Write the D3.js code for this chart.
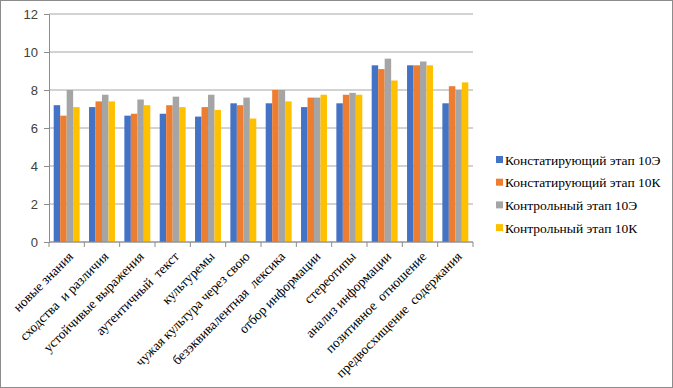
<!DOCTYPE html>
<html>
<head>
<meta charset="utf-8">
<script src="https://cdn.jsdelivr.net/npm/d3@7"></script>
<style>
  body { margin: 0; background: #fff; }
  .canva svg { display: block; }
</style>
</head>
<body>
<div class="canva"></div>
<script>
// categories and series values
const categories = [
  'новые знания', 'сходства  и различия', 'устойчивые выражения', 'аутентичный  текст',
  'культуремы', 'чужая культура через свою', 'безэквивалентная  лексика', 'отбор информации',
  'стереотипы', 'анализ информации', 'позитивное  отношение', 'предвосхищение  содержания'
];
const seriesNames = ['Констатирующий этап 10Э', 'Констатирующий этап 10К', 'Контрольный этап 10Э', 'Контрольный этап 10К'];
const konst10E = [7.2, 7.1, 6.65, 6.75, 6.6, 7.3, 7.3, 7.1, 7.3, 9.3, 9.3, 7.3];
const konst10K = [6.65, 7.4, 6.75, 7.2, 7.1, 7.2, 8.0, 7.6, 7.75, 9.1, 9.3, 8.2];
const kontr10E = [8.0, 7.75, 7.5, 7.65, 7.75, 7.6, 8.0, 7.6, 7.85, 9.65, 9.5, 8.0];
const kontr10K = [7.1, 7.4, 7.2, 7.1, 6.95, 6.5, 7.4, 7.75, 7.75, 8.5, 9.3, 8.4];
const yTicks = [0, 2, 4, 6, 8, 10, 12];
const colors = ['#4472C4', '#ED7D31', '#A5A5A5', '#FFC000'];

const series = [konst10E, konst10K, kontr10E, kontr10K];
const serifFont = "'Liberation Serif'";

const width = 673, height = 388;
const margin = {top: 14, left: 49, right: 200, bottom: 146};
const plotW = 473 - margin.left;
const plotH = 242 - margin.top;

const svg = d3.select('.canva').append('svg')
  .attr('width', width)
  .attr('height', height);

// outer chart border
svg.append('rect')
  .attr('x', 0.5).attr('y', 0.5)
  .attr('width', width - 1).attr('height', height - 1)
  .attr('fill', '#fff').attr('stroke', '#8c8c8c');

const graph = svg.append('g')
  .attr('transform', `translate(${margin.left}, ${margin.top})`);

const x = d3.scaleBand()
  .domain(categories)
  .range([0, plotW])
  .paddingInner(0)
  .paddingOuter(0);

const x1 = d3.scaleBand()
  .domain(d3.range(series.length))
  .range([4.7, x.bandwidth() - 4.7]);

const y = d3.scaleLinear()
  .domain([0, 12])
  .range([plotH, 0]);

// gridlines
graph.append('g')
  .selectAll('line')
  .data(yTicks)
  .enter().append('line')
  .attr('x1', 0).attr('x2', plotW)
  .attr('y1', d => y(d)).attr('y2', d => y(d))
  .attr('stroke', '#a6a6a6');

// y axis
const yAxis = d3.axisLeft(y).tickValues(yTicks).tickSize(5).tickPadding(6);
const yAxisGroup = graph.append('g').call(yAxis)
  .attr('font-family', "'Liberation Sans'")
  .attr('font-size', 13);
yAxisGroup.select('.domain').attr('stroke', '#8c8c8c');
yAxisGroup.selectAll('.tick line').attr('stroke', '#8c8c8c');
yAxisGroup.selectAll('text').attr('fill', '#404040');

// bars
const groups = graph.selectAll('.grp')
  .data(categories)
  .enter().append('g')
  .attr('class', 'grp')
  .attr('transform', d => `translate(${x(d)}, 0)`);

groups.selectAll('rect')
  .data((d, i) => series.map((s, k) => ({k: k, v: s[i]})))
  .enter().append('rect')
  .attr('x', d => x1(d.k))
  .attr('width', x1.bandwidth())
  .attr('y', d => y(d.v))
  .attr('height', d => plotH - y(d.v))
  .attr('fill', d => colors[d.k]);

// x axis with ticks between categories
const xAxisGroup = graph.append('g')
  .attr('transform', `translate(0, ${plotH})`);
xAxisGroup.append('line')
  .attr('x1', 0).attr('x2', plotW)
  .attr('stroke', '#8c8c8c');
xAxisGroup.selectAll('.tk')
  .data(d3.range(categories.length + 1))
  .enter().append('line')
  .attr('x1', i => i * x.bandwidth()).attr('x2', i => i * x.bandwidth())
  .attr('y1', 0).attr('y2', 5)
  .attr('stroke', '#8c8c8c');

xAxisGroup.selectAll('.lbl')
  .data(categories)
  .enter().append('text')
  .attr('transform', d => `translate(${x(d) + x.bandwidth() / 2 + 4}, 12) rotate(-45)`)
  .attr('text-anchor', 'end')
  .attr('dy', '0.35em')
  .attr('font-family', serifFont)
  .attr('font-size', 13.5)
  .style('white-space', 'pre')
  .attr('fill', '#000')
  .text(d => d);

// legend
const legend = svg.append('g')
  .attr('transform', 'translate(496, 160)');
const item = legend.selectAll('g')
  .data(seriesNames)
  .enter().append('g')
  .attr('transform', (d, i) => `translate(0, ${i * 22.7})`);
item.append('rect')
  .attr('x', 0).attr('y', -4)
  .attr('width', 7).attr('height', 7)
  .attr('fill', (d, i) => colors[i]);
item.append('text')
  .attr('x', 9).attr('dy', '0.35em')
  .attr('font-family', serifFont)
  .attr('font-size', 13.5)
  .attr('fill', '#000')
  .text(d => d);
</script>
</body>
</html>
